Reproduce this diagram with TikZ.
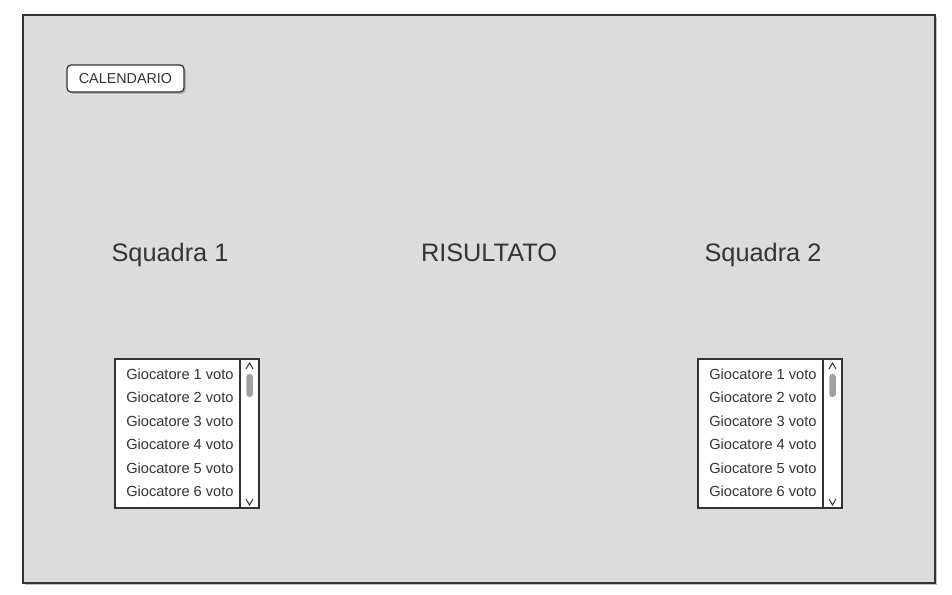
\documentclass[tikz,border=0pt]{standalone}
\usepackage{fontspec}
\setmainfont{Liberation Sans}
\usepackage{tikz}
\definecolor{panel}{HTML}{DCDCDC}
\definecolor{ink}{HTML}{333333}
\definecolor{thumb}{HTML}{A0A0A0}
\tikzset{
	line/.style={draw=ink, line width=0.9pt},
	chevron/.style={draw=ink, line width=0.7pt},
	head/.style={anchor=base, text=ink, font=\fontsize{18}{20}\selectfont},
	item/.style={anchor=west, text=ink, inner sep=0pt, font=\fontsize{10.4}{12}\selectfont}
}

\begin{document}
\begin{tikzpicture}
				%%%%% START %%%%%
				\useasboundingbox (0, 0) rectangle (23.8, 14.875);
				
				\fill[black!25] (0.63, 0.25) rectangle (23.43, 14.45);
				\draw[line, fill=panel] (0.575, 0.3) rectangle (23.375, 14.5);
				
				\fill[black!30, rounded corners=0.1cm] (1.72, 12.53) rectangle (4.65, 13.2);
				\node[line, fill=white, rounded corners=0.1cm, minimum width=2.925cm, minimum height=0.675cm, text=ink, font=\fontsize{10.2}{12}\selectfont] (calendario) at (3.1375, 12.9125) {CALENDARIO};
				
				\node[head] (squadra1) at (4.25, 8.325) {Squadra 1};
				\node[head] (risultato) at (12.225, 8.325) {RISULTATO};
				\node[head] (squadra2) at (19.075, 8.325) {Squadra 2};
				
				%% list of team 1
				\draw[line, fill=white] (2.875, 2.175) rectangle (6.475, 5.9);
				\draw[line] (6.0, 2.175) -- (6.0, 5.9);
				\fill[thumb, rounded corners=0.07cm] (6.16, 4.95) rectangle (6.32, 5.525);
				\draw[chevron] (6.15, 5.65) -- (6.2375, 5.8) -- (6.325, 5.65);
				\draw[chevron] (6.15, 2.4) -- (6.2375, 2.25) -- (6.325, 2.4);
				
				\node[item] (g1a) at (3.15, 5.525) {Giocatore 1 voto};
				\node[item] (g2a) at (3.15, 4.9375) {Giocatore 2 voto};
				\node[item] (g3a) at (3.15, 4.35) {Giocatore 3 voto};
				\node[item] (g4a) at (3.15, 3.7625) {Giocatore 4 voto};
				\node[item] (g5a) at (3.15, 3.175) {Giocatore 5 voto};
				\node[item] (g6a) at (3.15, 2.5875) {Giocatore 6 voto};
				
				%% list of team 2
				\draw[line, fill=white] (17.45, 2.175) rectangle (21.05, 5.9);
				\draw[line] (20.575, 2.175) -- (20.575, 5.9);
				\fill[thumb, rounded corners=0.07cm] (20.735, 4.95) rectangle (20.895, 5.525);
				\draw[chevron] (20.725, 5.65) -- (20.8125, 5.8) -- (20.9, 5.65);
				\draw[chevron] (20.725, 2.4) -- (20.8125, 2.25) -- (20.9, 2.4);
				
				\node[item] (g1b) at (17.725, 5.525) {Giocatore 1 voto};
				\node[item] (g2b) at (17.725, 4.9375) {Giocatore 2 voto};
				\node[item] (g3b) at (17.725, 4.35) {Giocatore 3 voto};
				\node[item] (g4b) at (17.725, 3.7625) {Giocatore 4 voto};
				\node[item] (g5b) at (17.725, 3.175) {Giocatore 5 voto};
				\node[item] (g6b) at (17.725, 2.5875) {Giocatore 6 voto};
				%%%%% END %%%%%
\end{tikzpicture}
\end{document}
